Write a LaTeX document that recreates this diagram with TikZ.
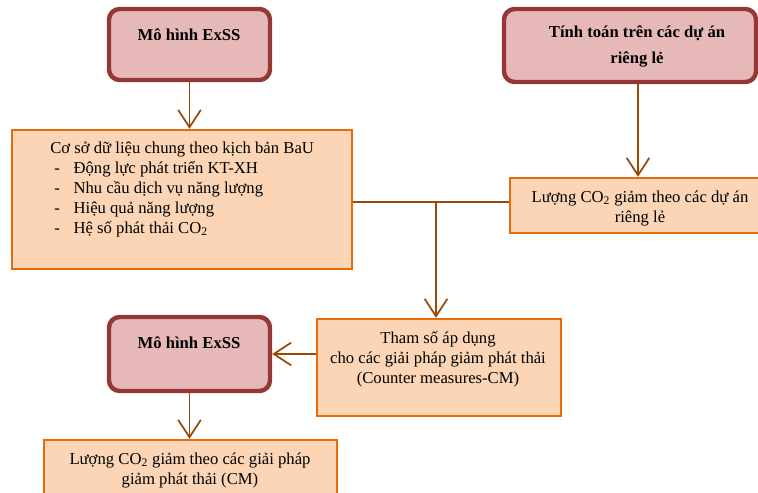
\documentclass[tikz,border=0pt]{standalone}
\usepackage{fontspec}
\setmainfont{Liberation Serif}
\usetikzlibrary{arrows.meta,fit}
\definecolor{redfill}{HTML}{E6B9B8}
\definecolor{redline}{HTML}{953735}
\definecolor{peach}{HTML}{FBD5B5}
\definecolor{orangeline}{HTML}{E46C0A}
\definecolor{brownline}{HTML}{984807}
\begin{document}
\begin{tikzpicture}[x=0.75pt,y=-0.75pt,
  redbox/.style={draw=redline, fill=redfill, line width=3.3pt, rounded corners=8pt, rectangle, inner sep=0pt},
  peachbox/.style={draw=orangeline, fill=peach, line width=1.8pt, rectangle, inner sep=0pt},
  conn/.style={draw=brownline, line width=1.3pt},
  arr/.style={conn, -{Straight Barb[length=13pt,width=17pt,line width=1.3pt]}},
  lbl/.style={inner sep=0pt, anchor=base, font=\fontsize{12.5}{15}\selectfont},
  blbl/.style={inner sep=0pt, anchor=base, font=\bfseries\fontsize{12.5}{19.5}\selectfont}]
\useasboundingbox (0,0) rectangle (758,493);
\clip (0,0) rectangle (758,493);
% boxes
\node[redbox, fit={(109,9) (270,80)}] (m1) {};
\node[redbox, fit={(504,9) (756,82)}] (t1) {};
\node[peachbox, fit={(12,130) (352,269)}] (db) {};
\node[peachbox, fit={(510,178) (766,233)}] (r1) {};
\node[peachbox, fit={(317,319) (561,416)}] (tp) {};
\node[redbox, fit={(109,317) (270,391)}] (m2) {};
\node[peachbox, fit={(44,440) (337,505)}] (bt) {};
% texts
\node[blbl] (m1t) at (189,40) {Mô hình ExSS};
\node[blbl] (t1t) at (637,37) {\begin{tabular}[t]{@{}c@{}}Tính toán trên các dự án\\riêng lẻ\end{tabular}};
\node[lbl, anchor=base west] (dbt) at (50,153) {\begin{tabular}[t]{@{}l@{}}Cơ sở dữ liệu chung theo kịch bản BaU\\
\hspace*{3pt}\makebox[14.5pt][l]{-}Động lực phát triển KT-XH\\
\hspace*{3pt}\makebox[14.5pt][l]{-}Nhu cầu dịch vụ năng lượng\\
\hspace*{3pt}\makebox[14.5pt][l]{-}Hiệu quả năng lượng\\
\hspace*{3pt}\makebox[14.5pt][l]{-}Hệ số phát thải CO\textsubscript{2}\end{tabular}};
\node[lbl] (r1t) at (640,202) {\begin{tabular}[t]{@{}c@{}}Lượng CO\textsubscript{2} giảm theo các dự án\\riêng lẻ\end{tabular}};
\node[lbl] (tpt) at (438,343) {\begin{tabular}[t]{@{}c@{}}Tham số áp dụng\\cho các giải pháp giảm phát thải\\(Counter measures-CM)\end{tabular}};
\node[blbl] (m2t) at (189,348) {Mô hình ExSS};
\node[lbl] (btt) at (190,464) {\begin{tabular}[t]{@{}c@{}}Lượng CO\textsubscript{2} giảm theo các giải pháp\\giảm phát thải (CM)\end{tabular}};
% connectors
\coordinate (j) at (436,202);
\draw[arr] (m1.south) -- (m1.south |- db.north);
\draw[arr] (t1.south -| r1.north) -- (r1.north);
\draw[conn] (db.east |- j) -- (r1.west |- j);
\draw[arr] (j) -- (j |- tp.north);
\draw[arr] (tp.west |- m2.east) -- (m2.east);
\draw[arr] (m2.south) -- (m2.south |- bt.north);
\end{tikzpicture}
\end{document}
